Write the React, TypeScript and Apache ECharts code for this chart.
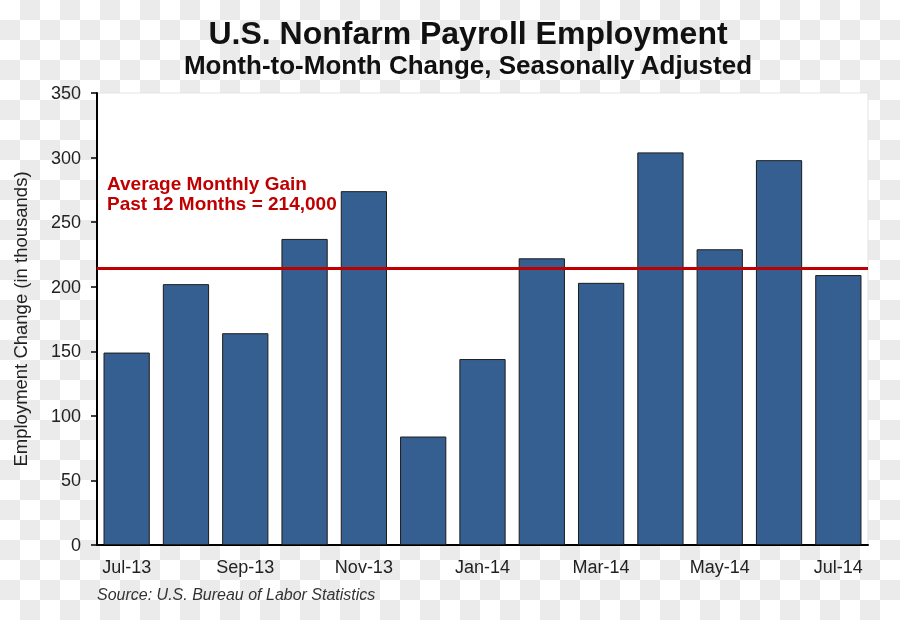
import React, { useEffect, useRef } from "react";
import * as echarts from "echarts";

const months = ["Jul-13", "Aug-13", "Sep-13", "Oct-13", "Nov-13", "Dec-13", "Jan-14", "Feb-14", "Mar-14", "Apr-14", "May-14", "Jun-14", "Jul-14"];
const changes = [149, 202, 164, 237, 274, 84, 144, 222, 203, 304, 229, 298, 209];
const averageGain = 214;
const yTicks = { min: 0, max: 350, interval: 50 };

const FONT = "'Liberation Sans', Arial, Helvetica, sans-serif";

export default function App() {
  const ref = useRef<HTMLDivElement>(null);
  useEffect(() => {
    if (!ref.current) return;
    const chart = echarts.init(ref.current, undefined, { renderer: "svg", width: 900, height: 620 });
    chart.setOption({
      animation: false,
      backgroundColor: "transparent",
      textStyle: { fontFamily: FONT },
      grid: {
        left: 97,
        right: 32,
        top: 93,
        bottom: 75,
        show: true,
        backgroundColor: "#ffffff",
        borderColor: "#e3e3e3",
        borderWidth: 1,
      },
      xAxis: {
        type: "category",
        data: months,
        axisLine: { show: true, lineStyle: { color: "#000", width: 2 } },
        axisTick: { show: false },
        axisLabel: { interval: 1, fontSize: 18, color: "#222", margin: 13, fontFamily: FONT },
      },
      yAxis: {
        type: "value",
        min: yTicks.min,
        max: yTicks.max,
        interval: yTicks.interval,
        name: "Employment Change (in thousands)",
        nameLocation: "middle",
        nameRotate: 90,
        nameGap: 67,
        nameTextStyle: { fontSize: 18.5, color: "#222", fontFamily: FONT },
        axisLine: { show: true, lineStyle: { color: "#000", width: 2 } },
        axisTick: { show: true, length: 6, lineStyle: { color: "#000", width: 1.5 } },
        axisLabel: { fontSize: 18, color: "#222", margin: 16, fontFamily: FONT },
        splitLine: { show: false },
      },
      series: [
        {
          type: "bar",
          data: changes,
          barCategoryGap: "22%",
          itemStyle: { color: "#365f91", borderColor: "#1c1c1c", borderWidth: 1 },
          markLine: {
            silent: true,
            symbol: "none",
            label: { show: false },
            lineStyle: { color: "#c00000", width: 3, type: "solid" },
            data: [{ yAxis: averageGain }],
          },
        },
      ],
      graphic: [
        {
          type: "text",
          x: 468,
          y: 33,
          style: {
            text: "U.S. Nonfarm Payroll Employment",
            fill: "#111",
            font: `bold 32px ${FONT}`,
            align: "center",
            verticalAlign: "middle",
          },
        },
        {
          type: "text",
          x: 468,
          y: 65,
          style: {
            text: "Month-to-Month Change, Seasonally Adjusted",
            fill: "#111",
            font: `bold 26px ${FONT}`,
            align: "center",
            verticalAlign: "middle",
          },
        },
        {
          type: "text",
          left: 107,
          top: 173,
          style: {
            text: "Average Monthly Gain\nPast 12 Months = 214,000",
            fill: "#c00000",
            font: `bold 19px ${FONT}`,
            lineHeight: 20,
          },
        },
        {
          type: "text",
          left: 97,
          top: 586,
          style: {
            text: "Source: U.S. Bureau of Labor Statistics",
            fill: "#333",
            font: `italic 16px ${FONT}`,
          },
        },
      ],
    });
    return () => chart.dispose();
  }, []);
  return (
    <div
      style={{
        position: "fixed",
        left: 0,
        top: 0,
        width: 900,
        height: 620,
        background: "repeating-conic-gradient(#ebebeb 0% 25%, #ffffff 0% 50%) 0 0 / 40px 40px",
      }}
    >
      <div ref={ref} style={{ width: 900, height: 620 }} />
    </div>
  );
}
